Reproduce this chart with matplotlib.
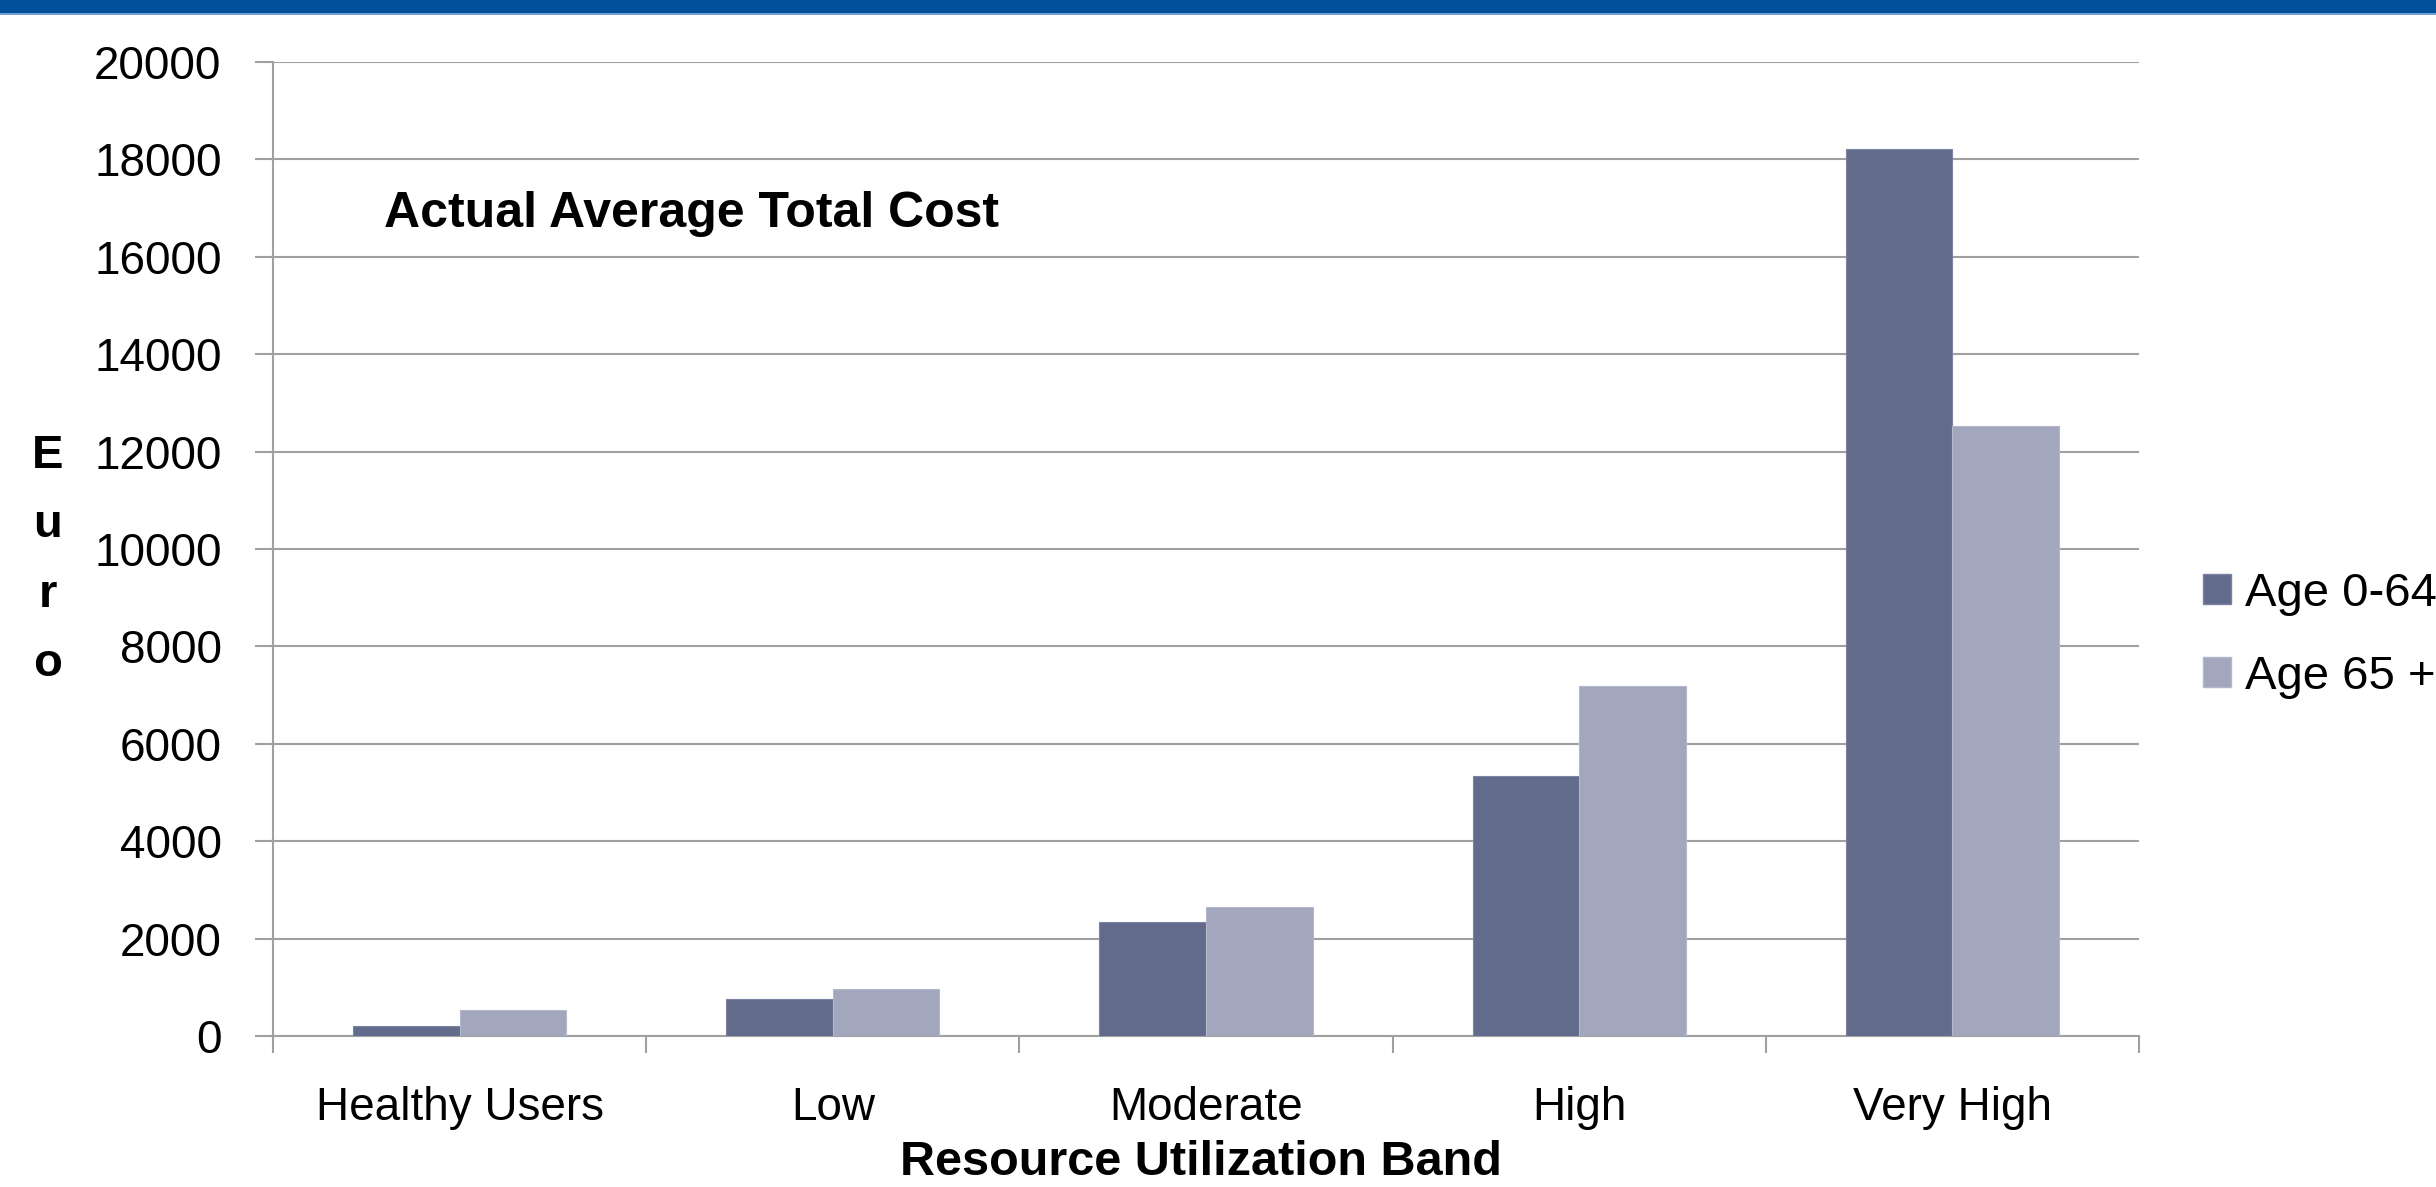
import matplotlib
matplotlib.use("Agg")
import matplotlib.pyplot as plt
from matplotlib.patches import Rectangle, Patch
import numpy as np

plt.rcParams['font.family'] = ['Liberation Sans', 'DejaVu Sans']

categories = ["Healthy Users", "Low", "Moderate", "High", "Very High"]
age_0_64 = [205, 770, 2335, 5340, 18210]
age_65_plus = [530, 965, 2645, 7180, 12530]
series_names = ["Age 0-64", "Age 65 +"]
y_ticks = list(range(0, 20001, 2000))

W, H = 2436, 1187
fig = plt.figure(figsize=(W / 100, H / 100), dpi=100)
fig.patch.set_facecolor("white")

# top blue band
fig.patches.append(Rectangle((0, 1 - 13 / H), 1, 13 / H, transform=fig.transFigure,
                             facecolor="#00519A", edgecolor="none", zorder=0))
fig.patches.append(Rectangle((0, 1 - 14.5 / H), 1, 1.5 / H, transform=fig.transFigure,
                             facecolor="#6F9FD2", edgecolor="none", zorder=0))

left, right, top, bottom = 273, 2139, 62, 1036
ax = fig.add_axes([left / W, 1 - bottom / H, (right - left) / W, (bottom - top) / H])

dark = "#636B8D"
light = "#A3A7BD"
grid_c = "#A0A0A0"

x = np.arange(len(categories))
bw = 1 / 3.5
ax.bar(x - bw / 2, age_0_64, width=bw, color=dark, edgecolor="#7C83A2", linewidth=0.8,
       label=series_names[0], zorder=3)
ax.bar(x + bw / 2, age_65_plus, width=bw, color=light, edgecolor="#B4B8CA", linewidth=0.8,
       label=series_names[1], zorder=3)

ax.set_xlim(-0.5, len(categories) - 0.5)
ax.set_ylim(0, 20000)
ax.set_yticks(y_ticks)
ax.set_yticklabels([str(v) for v in y_ticks])
ax.yaxis.grid(True, color=grid_c, linewidth=1.5, zorder=0)
ax.set_axisbelow(True)

ax.set_xticks(x)
ax.set_xticklabels(categories)
ax.set_xticks(np.arange(-0.5, len(categories), 1.0), minor=True)
ax.tick_params(axis="x", which="major", length=0, pad=36, labelsize=33, colors="black")
ax.tick_params(axis="x", which="minor", length=12, width=1.5, color=grid_c, direction="out")
ax.tick_params(axis="y", which="major", length=13, width=1.5, color=grid_c, pad=24,
               labelsize=33, labelcolor="black")

for s in ["top", "right"]:
    ax.spines[s].set_visible(False)
for s in ["left", "bottom"]:
    ax.spines[s].set_color(grid_c)
    ax.spines[s].set_linewidth(1.5)

# in-chart title
fig.text(384 / W, 1 - 227 / H, "Actual Average Total Cost", fontsize=36, fontweight="bold",
         ha="left", va="baseline")

# y label, stacked letters
fig.text(48 / W, 1 - 560 / H, "E\nu\nr\no", fontsize=34, fontweight="bold",
         ha="center", va="center", linespacing=1.75)

# x label near the bottom edge
fig.text(1201 / W, 12 / H, "Resource Utilization Band", fontsize=35, fontweight="bold",
         ha="center", va="baseline")

handles = [Patch(facecolor=dark, edgecolor="#7C83A2"), Patch(facecolor=light, edgecolor="#B4B8CA")]
fig.legend(handles, series_names, loc="upper left", bbox_to_anchor=(2203 / W, 1 - 572 / H),
           frameon=False, fontsize=34, handlelength=0.6, handleheight=0.6,
           handletextpad=0.28, labelspacing=0.82, borderpad=0, borderaxespad=0)

fig.savefig("out.png", dpi=100, facecolor="white")
